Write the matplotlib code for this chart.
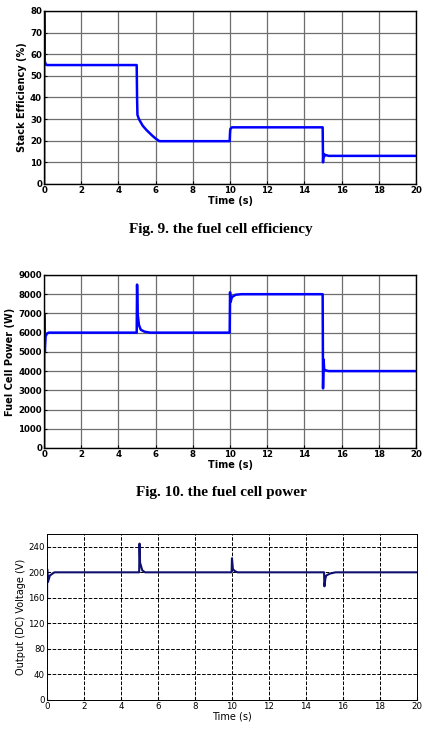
import numpy as np
import matplotlib
matplotlib.use("Agg")
import matplotlib.pyplot as plt

# Fig. 9 - stack efficiency (%)
eff_t = [0, 0.005, 0.03, 0.08, 0.15, 4.98, 5.0, 5.02, 5.1, 5.3, 5.5, 5.8, 6.0, 6.2,
         9.98, 10.0, 10.02, 10.1, 14.98, 15.0, 15.02, 15.05, 15.1, 15.3, 20]
eff_v = [0, 80, 57, 55.5, 55, 55, 40, 32, 30, 27, 25, 22.5, 21, 19.8,
         19.8, 24, 25.5, 26.2, 26.2, 10, 14, 12.5, 13.5, 13, 13]

# Fig. 10 - fuel cell power (W)
pow_t = [0, 0.005, 0.04, 0.08, 0.15, 0.25, 4.98, 5.0, 5.03, 5.1, 5.2, 5.4, 5.7,
         9.98, 10.0, 10.03, 10.1, 10.3, 10.6, 14.98, 15.0, 15.03, 15.06, 15.1, 15.3, 20]
pow_v = [0, 7000, 5000, 5800, 5950, 6000, 6000, 8500, 7000, 6400, 6150, 6050, 6000,
         6000, 8100, 7600, 7850, 7970, 8000, 8000, 3100, 4600, 4100, 4050, 4000, 4000]

# output DC voltage (V)
volt_t = [0, 0.005, 0.05, 0.15, 0.4, 4.98, 5.0, 5.03, 5.08, 5.15, 5.3,
          9.98, 10.0, 10.05, 10.15, 10.3, 14.98, 15.0, 15.05, 15.1, 15.3, 15.6, 20]
volt_v = [160, 205, 185, 195, 200, 200, 245, 215, 210, 203, 200,
          200, 222, 205, 202, 200, 200, 178, 190, 195, 198, 200, 200]

xticks = np.arange(0, 21, 2)

fig = plt.figure(figsize=(4.28, 7.38), dpi=100)

def matlab_axes(rect, t, v, ylim, yticks, ylabel):
    ax = fig.add_axes(rect)
    ax.plot(t, v, color="#0000ff", lw=1.8)
    ax.set_xlim(0, 20)
    ax.set_ylim(*ylim)
    ax.set_xticks(xticks)
    ax.set_yticks(yticks)
    ax.grid(True, color="#6e6e6e", lw=0.9)
    ax.tick_params(direction="in", length=2.5, labelsize=6.2, pad=1.5, width=0.8)
    for lab in ax.get_xticklabels() + ax.get_yticklabels():
        lab.set_fontweight("bold")
    for s in ax.spines.values():
        s.set_linewidth(1.0)
    ax.set_xlabel("Time (s)", fontsize=7, fontweight="bold", labelpad=1)
    ax.set_ylabel(ylabel, fontsize=7, fontweight="bold", labelpad=2)
    return ax

matlab_axes([0.103, 0.7507, 0.869, 0.2344], eff_t, eff_v, (0, 80),
            np.arange(0, 81, 10), "Stack Efficiency (%)")
fig.text(0.516, 0.6897, "Fig. 9. the fuel cell efficiency", ha="center", va="center",
         family="Liberation Serif", fontweight="bold", fontsize=11)

matlab_axes([0.103, 0.3930, 0.869, 0.2344], pow_t, pow_v, (0, 9000),
            np.arange(0, 9001, 1000), "Fuel Cell Power (W)")
fig.text(0.518, 0.332, "Fig. 10. the fuel cell power", ha="center", va="center",
         family="Liberation Serif", fontweight="bold", fontsize=11)

ax3 = fig.add_axes([0.110, 0.0515, 0.864, 0.2249])
ax3.plot(volt_t, volt_v, color="#10106e", lw=1.5)
ax3.set_xlim(0, 20)
ax3.set_ylim(0, 260)
ax3.set_xticks(xticks)
ax3.set_yticks(np.arange(0, 241, 40))
ax3.grid(True, color="black", ls="--", lw=0.7)
ax3.tick_params(direction="in", length=2.5, labelsize=6.2, pad=1.5)
for s in ax3.spines.values():
    s.set_linewidth(0.7)
ax3.set_xlabel("Time (s)", fontsize=7, labelpad=0)
ax3.set_ylabel("Output (DC) Voltage (V)", fontsize=7, labelpad=2)

fig.savefig("out.png", dpi=100)
